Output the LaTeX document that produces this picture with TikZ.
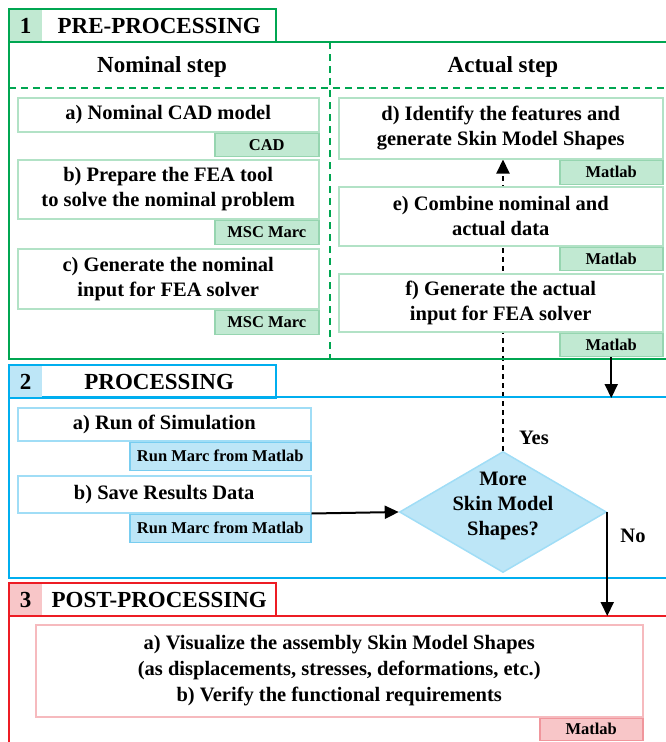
\documentclass[tikz,border=0pt]{standalone}
\usepackage{fontspec}
\setmainfont{Liberation Serif}
\usetikzlibrary{arrows.meta,shapes.geometric,backgrounds}

\definecolor{preline}{RGB}{0,166,81}
\definecolor{prefill}{RGB}{193,233,210}
\definecolor{prebox}{RGB}{178,226,198}
\definecolor{preedge}{RGB}{150,213,176}
\definecolor{proline}{RGB}{0,174,239}
\definecolor{profill}{RGB}{189,230,247}
\definecolor{probox}{RGB}{160,221,246}
\definecolor{proedge}{RGB}{120,205,240}
\definecolor{postline}{RGB}{237,28,36}
\definecolor{postfill}{RGB}{248,198,200}
\definecolor{postbox}{RGB}{246,186,190}
\definecolor{postedge}{RGB}{240,150,156}

\tikzset{
  frame/.style={line width=2pt},
  divider/.style={preline, line width=2pt, dash pattern=on 7pt off 5pt},
  numcell/.style={anchor=north west, inner sep=0pt, minimum width=33pt, minimum height=33pt,
    font=\bfseries\fontsize{23}{27}\selectfont},
  tabtitle/.style={anchor=north west, inner sep=0pt, minimum width=234pt, minimum height=33pt,
    font=\bfseries\fontsize{23}{27}\selectfont},
  headtext/.style={font=\bfseries\fontsize{23}{27}\selectfont},
  stepbox/.style={anchor=north west, inner sep=0pt, fill=white, line width=1.5pt, align=center,
    font=\bfseries\fontsize{20.5}{25}\selectfont},
  toolbox/.style={anchor=north east, inner sep=0pt, line width=1.5pt,
    font=\bfseries\fontsize{16.5}{19}\selectfont},
  nomstep/.style={stepbox, draw=prebox},
  nomtool/.style={toolbox, fill=prefill, draw=preedge},
  prostep/.style={stepbox, draw=probox},
  protool/.style={toolbox, fill=profill, draw=proedge},
  poststep/.style={stepbox, draw=postbox},
  posttool/.style={toolbox, fill=postfill, draw=postedge},
  decision/.style={diamond, draw=probox, fill=profill, line width=1.5pt, inner sep=0pt,
    minimum width=207pt, minimum height=121pt},
  flowtext/.style={align=center, font=\bfseries\fontsize{20.5}{25}\selectfont},
  flow/.style={line width=2pt, -{Triangle[length=14pt,width=13pt]}},
}

\begin{document}
\begin{tikzpicture}[x=1pt,y=-1pt]
      \useasboundingbox (0,0) rectangle (665,742);

      % 1 pre-processing
      \draw[frame, preline] (668,42) -- (9,42) -- (9,359) -- (668,359);
      \node[numcell, fill=prefill] (num1) at (9,9) {1};
      \node[tabtitle] (title1) at (42,9) {PRE-PROCESSING};
      \draw[frame, preline] (num1.north west) rectangle (title1.south east);
      \draw[divider] (330,42) -- (330,359);
      \draw[divider] (9,88) -- (668,88);
      \node[headtext] (nomhead) at (162,67) {Nominal step};
      \node[headtext] (acthead) at (503,67) {Actual step};

      \node[nomstep, minimum width=301pt, minimum height=34pt] (nomA) at (17,97) {a) Nominal CAD model};
      \node[nomtool, minimum width=104pt, minimum height=23pt] (tagA) at (nomA.south east) {CAD};
      \node[nomstep, minimum width=301pt, minimum height=59pt] (nomB) at (17,159) {b) Prepare the FEA tool\\to solve the nominal problem};
      \node[nomtool, minimum width=104pt, minimum height=24pt] (tagB) at (nomB.south east) {MSC Marc};
      \node[nomstep, minimum width=301pt, minimum height=60pt] (nomC) at (17,248) {c) Generate the nominal\\input for FEA solver};
      \node[nomtool, minimum width=104pt, minimum height=24pt] (tagC) at (nomC.south east) {MSC Marc};

      \node[nomstep, minimum width=324pt, minimum height=61pt] (actD) at (338,97) {d) Identify the features and\\generate Skin Model Shapes};
      \node[nomtool, minimum width=103pt, minimum height=24pt] (tagD) at (actD.south east) {Matlab};
      \node[nomstep, minimum width=324pt, minimum height=59pt] (actE) at (338,186) {e) Combine nominal and\\actual data};
      \node[nomtool, minimum width=103pt, minimum height=23pt] (tagE) at (actE.south east) {Matlab};
      \node[nomstep, minimum width=324pt, minimum height=58pt] (actF) at (338,273) {f) Generate the actual\\input for FEA solver};
      \node[nomtool, minimum width=103pt, minimum height=23pt] (tagF) at (actF.south east) {Matlab};

      % 2 processing
      \draw[frame, proline] (668,397) -- (9,397) -- (9,578) -- (668,578);
      \node[numcell, fill=profill] (num2) at (9,365) {2};
      \node[tabtitle] (title2) at (42,365) {PROCESSING};
      \draw[frame, proline] (num2.north west) rectangle (title2.south east);

      \node[prostep, minimum width=293pt, minimum height=33pt] (runA) at (17,407) {a) Run of Simulation};
      \node[protool, minimum width=181pt, minimum height=28pt] (tagRA) at (runA.south east) {Run Marc from Matlab};
      \node[prostep, minimum width=293pt, minimum height=37pt] (runB) at (17,475) {b) Save Results Data};
      \node[protool, minimum width=181pt, minimum height=28pt] (tagRB) at (runB.south east) {Run Marc from Matlab};

      \node[decision] (dec) at (503,512) {};
      \node[flowtext] (decq) at ([yshift=6pt]dec.center) {More\\Skin Model\\Shapes?};
      \node[flowtext] (yes) at (534,438) {Yes};
      \node[flowtext] (no) at (633,536) {No};

      % 3 post-processing
      \draw[frame, postline] (668,616) -- (9,616) -- (9,745);
      \node[numcell, fill=postfill] (num3) at (9,583) {3};
      \node[tabtitle] (title3) at (42,583) {POST-PROCESSING};
      \draw[frame, postline] (num3.north west) rectangle (title3.south east);

      \node[poststep, minimum width=607pt, minimum height=92pt, font=\bfseries\fontsize{20.5}{26}\selectfont] (post) at (35,624)
        {a) Visualize the assembly Skin Model Shapes\\(as displacements, stresses, deformations, etc.)\\b) Verify the functional requirements};
      \node[posttool, minimum width=103pt, minimum height=22pt] (tagP) at (post.south east) {Matlab};

      % arrows
      \coordinate (proin) at (611,398);
      \coordinate (postin) at (607,616);
      \begin{scope}[on background layer]
        \draw[flow, dash pattern=on 5pt off 4pt] (dec.north) -- (dec.north |- actD.south);
      \end{scope}
      \draw[flow] (tagF.south) -- (tagF.south |- proin);
      \draw[flow] (runB.south east) -- (dec.west);
      \draw[flow] (dec.east) -- (dec.east |- postin);
    \end{tikzpicture}
\end{document}
